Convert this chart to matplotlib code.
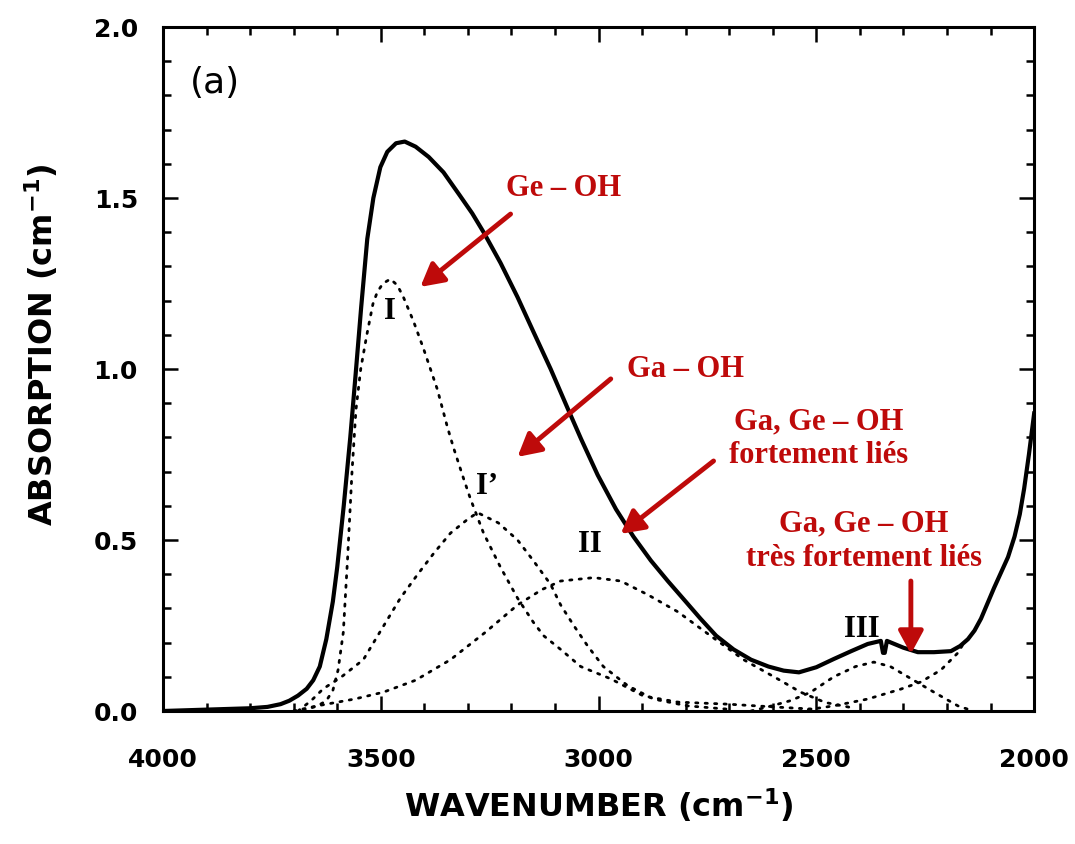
import matplotlib
matplotlib.use("Agg")
import matplotlib.pyplot as plt
from matplotlib.ticker import MultipleLocator, FormatStrFormatter

# spectre total (trait plein)
wn_total = [4000, 3900, 3800, 3760, 3730, 3710, 3690, 3670, 3655, 3640, 3625, 3610,
            3600, 3585, 3570, 3558, 3545, 3531, 3517, 3501, 3485, 3465, 3445, 3420,
            3390, 3356, 3320, 3290, 3264, 3225, 3186, 3150, 3110, 3071, 3040, 3002,
            2960, 2920, 2880, 2841, 2800, 2766, 2730, 2690, 2650, 2610, 2575, 2540,
            2500, 2460, 2420, 2382, 2352, 2347, 2343, 2338, 2300, 2267, 2230, 2191,
            2170, 2152, 2137, 2122, 2107, 2092, 2076, 2060, 2045, 2033, 2023, 2012, 2000]
abs_total = [0.0, 0.004, 0.008, 0.012, 0.02, 0.03, 0.045, 0.065, 0.09, 0.13, 0.21, 0.32,
             0.42, 0.60, 0.80, 0.98, 1.18, 1.38, 1.50, 1.59, 1.635, 1.66, 1.665, 1.65,
             1.62, 1.575, 1.51, 1.455, 1.40, 1.31, 1.21, 1.11, 1.00, 0.885, 0.795, 0.69,
             0.59, 0.51, 0.44, 0.38, 0.32, 0.27, 0.22, 0.18, 0.15, 0.13, 0.118, 0.113,
             0.128, 0.152, 0.175, 0.196, 0.205, 0.17, 0.17, 0.205, 0.185, 0.172, 0.172, 0.175,
             0.19, 0.21, 0.235, 0.27, 0.315, 0.36, 0.405, 0.45, 0.51, 0.575, 0.65, 0.75, 0.87]

# composantes (pointillés)
wn_I = [3700, 3670, 3645, 3625, 3610, 3598, 3586, 3576, 3566, 3557, 3546, 3532,
        3518, 3508, 3495, 3478, 3462, 3448, 3425, 3402, 3370, 3347, 3333, 3310,
        3294, 3264, 3225, 3186, 3150, 3126, 3087, 3041, 2972, 2897, 2818, 2703,
        2600, 2500]
abs_I = [0.0, 0.005, 0.015, 0.03, 0.06, 0.12, 0.23, 0.45, 0.70, 0.88, 1.00, 1.10,
         1.19, 1.225, 1.25, 1.263, 1.245, 1.21, 1.14, 1.06, 0.94, 0.83, 0.77, 0.68,
         0.62, 0.52, 0.42, 0.33, 0.26, 0.22, 0.18, 0.13, 0.094, 0.044, 0.026, 0.02,
         0.012, 0.005]

wn_Ip = [3690, 3660, 3632, 3590, 3540, 3500, 3455, 3415, 3379, 3340, 3301, 3278,
         3230, 3186, 3150, 3110, 3087, 3057, 3025, 2989, 2933, 2874, 2796, 2700]
abs_Ip = [0.0, 0.03, 0.065, 0.10, 0.15, 0.235, 0.33, 0.40, 0.46, 0.52, 0.56, 0.58,
          0.55, 0.50, 0.44, 0.37, 0.31, 0.25, 0.19, 0.13, 0.074, 0.035, 0.015, 0.005]

wn_II = [3700, 3646, 3560, 3494, 3420, 3340, 3260, 3186, 3130, 3087, 3011, 2949,
         2887, 2818, 2743, 2667, 2589, 2536, 2480, 2420]
abs_II = [0.0, 0.015, 0.035, 0.055, 0.09, 0.15, 0.23, 0.31, 0.355, 0.38, 0.39, 0.38,
          0.34, 0.29, 0.22, 0.15, 0.094, 0.055, 0.025, 0.01]

wn_III = [2650, 2611, 2560, 2513, 2460, 2410, 2368, 2330, 2290, 2230, 2175, 2140]
abs_III = [0.0, 0.012, 0.03, 0.055, 0.10, 0.13, 0.143, 0.13, 0.10, 0.055, 0.015, 0.0]

wn_IV = [2540, 2460, 2382, 2306, 2260, 2214, 2175, 2161]
abs_IV = [0.0, 0.015, 0.035, 0.064, 0.085, 0.12, 0.17, 0.20]

red = "#BE0A0A"

fig = plt.figure(figsize=(10.75, 8.45), dpi=100)
ax = fig.add_axes([0.1516, 0.1574, 0.8104, 0.8095])

ax.plot(wn_total, abs_total, color="black", lw=3.0, solid_joinstyle="round")
for x, y in [(wn_I, abs_I), (wn_Ip, abs_Ip), (wn_II, abs_II), (wn_III, abs_III), (wn_IV, abs_IV)]:
    ax.plot(x, y, color="black", lw=2.0, linestyle=(0, (0.8, 2.6)), dash_capstyle="round")

ax.set_xlim(4000, 2000)
ax.set_ylim(0, 2.0)
ax.xaxis.set_major_locator(MultipleLocator(500))
ax.xaxis.set_minor_locator(MultipleLocator(100))
ax.yaxis.set_major_locator(MultipleLocator(0.5))
ax.yaxis.set_minor_locator(MultipleLocator(0.1))
ax.yaxis.set_major_formatter(FormatStrFormatter("%.1f"))
ax.tick_params(which="both", direction="in", top=True, right=True, width=1.8)
ax.tick_params(which="major", length=11)
ax.tick_params(which="minor", length=6)
ax.tick_params(axis="x", which="major", pad=26)
ax.tick_params(axis="y", which="major", pad=18)
for s in ax.spines.values():
    s.set_linewidth(2.2)
for lab in ax.get_xticklabels() + ax.get_yticklabels():
    lab.set_fontfamily("DejaVu Sans")
    lab.set_fontweight("bold")
    lab.set_fontsize(18)

ax.set_xlabel("WAVENUMBER (cm$^{\\mathbf{-1}}$)", fontsize=23, fontweight="bold",
              family="DejaVu Sans")
ax.set_ylabel("ABSORPTION (cm$^{\\mathbf{-1}}$)", fontsize=23, fontweight="bold",
              family="DejaVu Sans")
ax.xaxis.set_label_coords(0.5, -0.108)
ax.yaxis.set_label_coords(-0.118, 0.537)

ax.text(3880, 1.84, "(a)", fontsize=26, family="DejaVu Sans", ha="center", va="center")

serif = "Liberation Serif"
ax.text(3478, 1.17, "I", fontsize=22, family=serif, fontweight="bold", ha="center", va="center")
ax.text(3255, 0.66, "I’", fontsize=22, family=serif, fontweight="bold", ha="center", va="center")
ax.text(3020, 0.49, "II", fontsize=22, family=serif, fontweight="bold", ha="center", va="center")
ax.text(2395, 0.24, "III", fontsize=22, family=serif, fontweight="bold", ha="center", va="center")

ax.text(3080, 1.53, "Ge – OH", color=red, fontsize=22, family=serif, fontweight="bold",
        ha="center", va="center")
ax.text(2800, 1.00, "Ga – OH", color=red, fontsize=22, family=serif, fontweight="bold",
        ha="center", va="center")
ax.text(2494, 0.80, "Ga, Ge – OH\nfortement liés", color=red, fontsize=22, family=serif,
        fontweight="bold", ha="center", va="center", linespacing=1.2)
ax.text(2391, 0.50, "Ga, Ge – OH\ntrès fortement liés", color=red, fontsize=22, family=serif,
        fontweight="bold", ha="center", va="center", linespacing=1.25)

arrow = dict(arrowstyle="-|>,head_length=0.55,head_width=0.3", color=red, lw=3.5,
             mutation_scale=25, shrinkA=0, shrinkB=0)
ax.annotate("", xy=(3409, 1.24), xytext=(3202, 1.453), arrowprops=arrow)
ax.annotate("", xy=(3186, 0.743), xytext=(2972, 0.971), arrowprops=arrow)
ax.annotate("", xy=(2949, 0.518), xytext=(2736, 0.731), arrowprops=arrow)
ax.annotate("", xy=(2283, 0.167), xytext=(2283, 0.38), arrowprops=arrow)

fig.savefig("out.png", dpi=100)
